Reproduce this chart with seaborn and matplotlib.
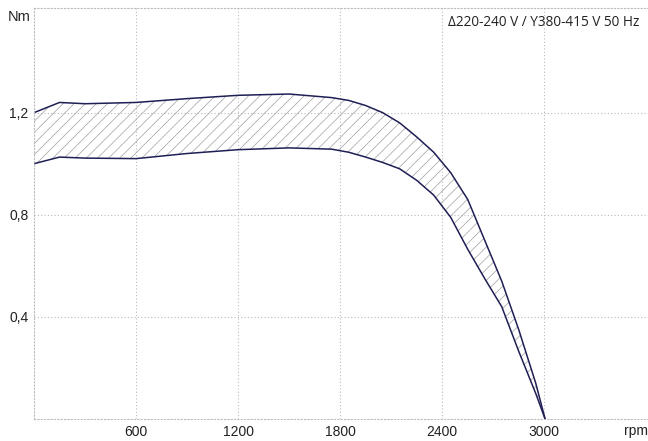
import matplotlib
matplotlib.use("Agg")
import matplotlib.pyplot as plt
import seaborn as sns
import pandas as pd

# === DATA ===
rpm = [0, 150, 300, 600, 900, 1200, 1500, 1750, 1850, 1950, 2050, 2150, 2250,
       2350, 2450, 2550, 2650, 2750, 2850, 2950, 3005]
torque_max = [1.20, 1.24, 1.235, 1.24, 1.255, 1.268, 1.273, 1.259, 1.248, 1.228,
              1.20, 1.16, 1.105, 1.045, 0.965, 0.86, 0.70, 0.54, 0.35,
              0.14, 0.0]
torque_min = [1.00, 1.026, 1.022, 1.02, 1.04, 1.055, 1.062, 1.057, 1.045, 1.026,
              1.005, 0.98, 0.935, 0.877, 0.79, 0.665, 0.55, 0.44, 0.265,
              0.10, 0.0]
xticks = [600, 1200, 1800, 2400, 3000]
yticks = [0.4, 0.8, 1.2]
ytick_labels = ["0,4", "0,8", "1,2"]

df = pd.DataFrame({"rpm": rpm, "max": torque_max, "min": torque_min})

# === STYLE ===
sns.set_style("white")
plt.rcParams["font.family"] = ["Liberation Sans", "DejaVu Sans"]
plt.rcParams["hatch.linewidth"] = 0.5
plt.rcParams["hatch.color"] = "#a0a0a0"

fig = plt.figure(figsize=(6.48, 4.41), dpi=100)
ax = fig.add_axes([34 / 648, 1 - 419 / 441, 614 / 648, 411 / 441])

line_col = "#1f1f55"
ax.fill_between(df["rpm"], df["min"], df["max"], facecolor="none",
                edgecolor="#a0a0a0", hatch="///", linewidth=0)
sns.lineplot(data=df, x="rpm", y="max", ax=ax, color=line_col, linewidth=1.1)
sns.lineplot(data=df, x="rpm", y="min", ax=ax, color=line_col, linewidth=1.1)

ax.set_xlim(0, 3610)
ax.set_ylim(0, 1.61)
ax.set_xticks(xticks)
ax.set_yticks(yticks)
ax.set_yticklabels(ytick_labels)
ax.tick_params(length=0, labelsize=10, colors="#222222", pad=4)
ax.set_xlabel("")
ax.set_ylabel("")
ax.grid(True, linestyle=(0, (1, 2)), color="#bbbbbb", linewidth=0.8)

for side in ["left", "top", "bottom"]:
    ax.spines[side].set_linestyle((0, (1, 2)))
    ax.spines[side].set_color("#bbbbbb")
    ax.spines[side].set_linewidth(0.8)
ax.spines["right"].set_visible(False)

fig.text(8 / 648, 1 - 17 / 441, "Nm", fontsize=10.5, va="center", ha="left",
         color="#222222")
fig.text(624 / 648, 1 - 431 / 441, "rpm", fontsize=10, va="center", ha="left",
         color="#222222")
fig.text(448 / 648, 1 - 22 / 441, "\u0394220-240 V / Y380-415 V 50 Hz",
         fontsize=9.8, va="center", ha="left", family=["Open Sans", "DejaVu Sans"],
         color="#222222")

fig.savefig("out.png", dpi=100)
